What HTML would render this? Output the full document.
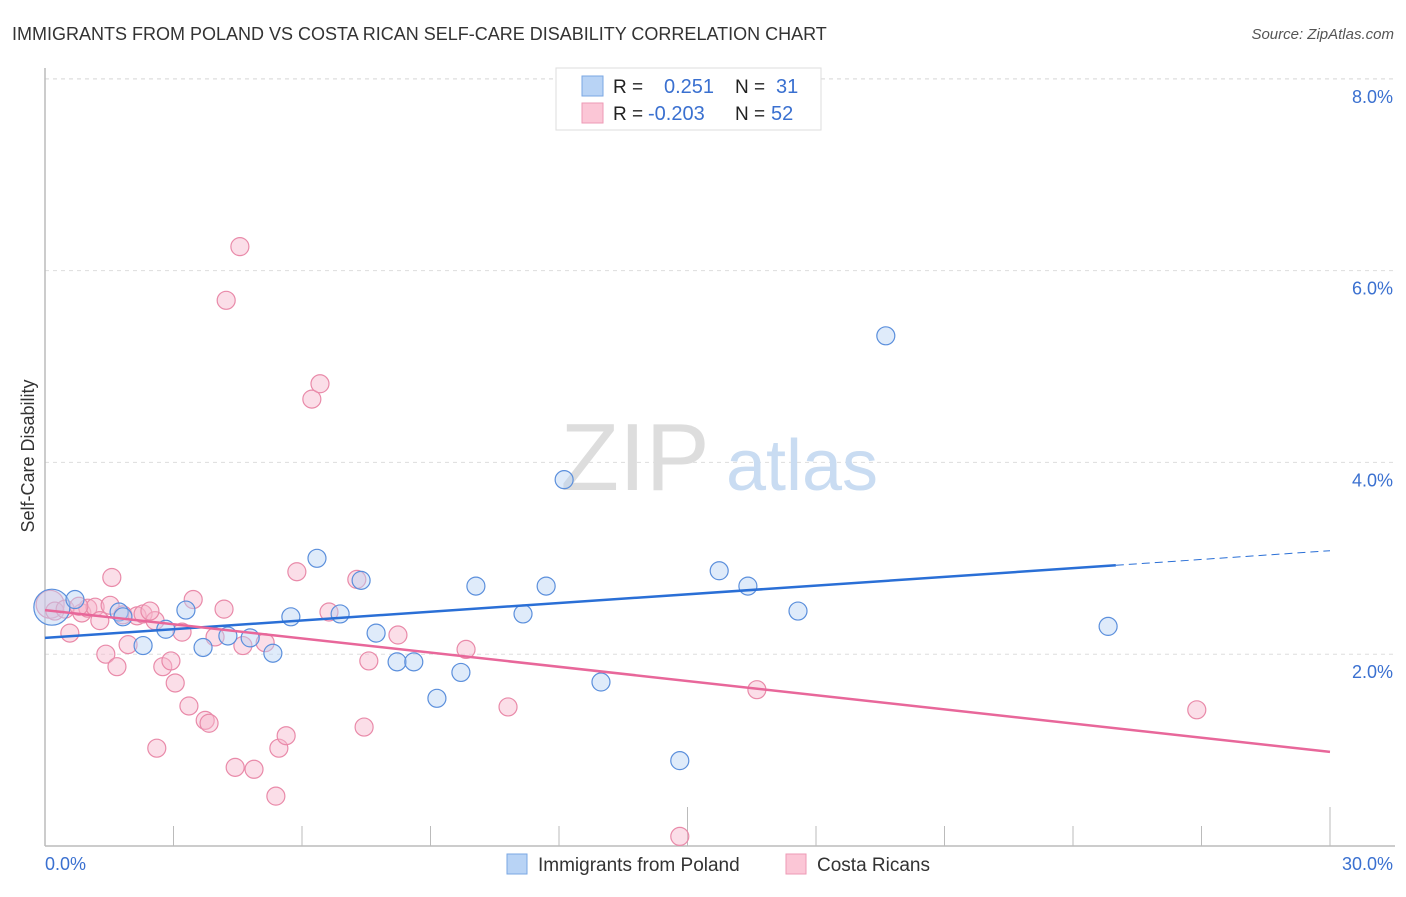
<!DOCTYPE html>
<html><head><meta charset="utf-8"><style>
body{margin:0;background:#fff;font-family:"Liberation Sans",sans-serif;}
svg text{font-family:"Liberation Sans",sans-serif;}
</style></head><body>
<svg id="chart" width="1406" height="892">
<text x="12" y="40" font-size="18" fill="#333">IMMIGRANTS FROM POLAND VS COSTA RICAN SELF-CARE DISABILITY CORRELATION CHART</text>
<text x="1394" y="39" font-size="15" fill="#555" text-anchor="end" font-style="italic">Source: ZipAtlas.com</text>
<g id="grid"></g>
<g>
<text x="635" y="490" font-size="96" fill="#ddd" font-family="Liberation Serif" text-anchor="middle">ZIP</text>
<text x="802" y="490" font-size="72" fill="#c9dcf2" text-anchor="middle">atlas</text>
</g>
<text transform="translate(34,456) rotate(-90)" font-size="18" fill="#333" text-anchor="middle">Self-Care Disability</text>
<g id="pts"></g>
<g id="lines"></g>
<g>
<rect x="556" y="68" width="265" height="62" fill="#fff" stroke="#ddd"/>
<rect x="582" y="76" width="21" height="20" fill="#b8d3f5" stroke="#7aa7e3"/>
<rect x="582" y="103" width="21" height="20" fill="#fbc6d6" stroke="#ee9ab5"/>
<text x="613" y="93" font-size="19" fill="#222">R =</text>
<text x="664" y="93" font-size="20" fill="#3a70d0">0.251</text>
<text x="735" y="93" font-size="19" fill="#222">N =</text>
<text x="776" y="93" font-size="20" fill="#3a70d0">31</text>
<text x="613" y="120" font-size="19" fill="#222">R =</text>
<text x="648" y="120" font-size="20" fill="#3a70d0">-0.203</text>
<text x="735" y="120" font-size="19" fill="#222">N =</text>
<text x="771" y="120" font-size="20" fill="#3a70d0">52</text>
</g>
<text x="45" y="870" font-size="18" fill="#3a70d0">0.0%</text>
<text x="1393" y="870" font-size="18" fill="#3a70d0" text-anchor="end">30.0%</text>
<g>
<rect x="507" y="854" width="20" height="20" fill="#b8d3f5" stroke="#7aa7e3"/>
<text x="538" y="871" font-size="19" fill="#333">Immigrants from Poland</text></g>
<g>
<rect x="786" y="854" width="20" height="20" fill="#fbc6d6" stroke="#ee9ab5"/>
<text x="817" y="871" font-size="19" fill="#333">Costa Ricans</text></g>
</svg>
<script>
const yTicks=[2,4,6,8];
const yTickLabels=["2.0%","4.0%","6.0%","8.0%"];
const blueX=[0.16,0.70,1.73,1.82,2.29,2.82,3.29,3.69,4.27,4.79,5.32,5.74,6.35,6.89,7.38,7.73,8.22,8.61,9.15,9.71,10.06,11.16,11.70,12.12,12.98,14.82,15.74,16.41,17.58,19.63,24.82];
const blueY=[2.49,2.57,2.44,2.39,2.09,2.26,2.46,2.07,2.19,2.17,2.01,2.39,3.00,2.42,2.77,2.22,1.92,1.92,1.54,1.81,2.71,2.42,2.71,3.82,1.71,0.89,2.87,2.71,2.45,5.32,2.29];
const pinkX=[0.12,0.23,0.47,0.86,1.00,1.17,1.56,0.58,1.28,1.82,1.42,1.68,1.94,2.15,2.29,2.57,2.61,2.75,2.94,3.04,3.20,3.36,3.46,3.74,3.83,3.97,4.18,4.23,4.44,4.55,4.62,4.88,5.14,5.39,5.46,5.63,5.88,6.23,6.42,6.63,7.28,7.45,7.56,8.24,9.83,10.81,14.82,16.62,26.89,2.45,0.79,1.52];
const pinkY=[2.52,2.45,2.47,2.43,2.48,2.49,2.80,2.22,2.35,2.41,2.00,1.87,2.10,2.40,2.42,2.35,1.02,1.87,1.93,1.70,2.23,1.46,2.57,1.31,1.28,2.18,2.47,5.69,0.82,6.25,2.09,0.80,2.12,0.52,1.02,1.15,2.86,4.66,4.82,2.44,2.78,1.24,1.93,2.20,2.05,1.45,0.10,1.63,1.42,2.45,2.50,2.51];
const blueTrend=[2.17,0.0303];
const pinkTrend=[2.46,-0.0493];
const NS="http://www.w3.org/2000/svg";
const X0=45,X1=1330,Y0=846,PX=95.9;
const xs=v=>X0+v/30*(X1-X0), ys=v=>Y0-v*PX;
function mk(t,a,p){const e=document.createElementNS(NS,t);for(const k in a)e.setAttribute(k,a[k]);p.appendChild(e);return e;}
const g=document.getElementById('grid');
yTicks.forEach((t,i)=>{
 const l=mk('line',{x1:X0,x2:1395,y1:ys(t),y2:ys(t),stroke:'#ddd','stroke-dasharray':'4,4'},g);
 
 
 const tx=mk('text',{x:1393,y:ys(t)+24,'font-size':18,fill:'#3a70d0','text-anchor':'end'},g);
 tx.textContent=yTickLabels[i];
 
 
});
mk('line',{x1:X0,x2:1395,y1:79,y2:79,stroke:'#ddd','stroke-dasharray':'4,4'},g);
const ax=mk('line',{x1:X0,x2:1395,y1:Y0,y2:Y0,stroke:'#bbb','stroke-width':1.5},g);


const ay=mk('line',{x1:X0,x2:X0,y1:68,y2:Y0,stroke:'#bbb','stroke-width':1.5},g);


for(let i=1;i<=10;i++){const t=mk('line',{x1:xs(i*3),x2:xs(i*3),y1:(i==5||i==10)?807:826,y2:Y0,stroke:'#bbb'},g);
 
 }
const P=document.getElementById('pts');
function dots(X,Y,fill,stroke,name,bigR){X.forEach((x,i)=>{
 const c=mk('circle',{cx:xs(x),cy:ys(Y[i]),r:(i==0?bigR:9),fill:fill,'fill-opacity':0.45,stroke:stroke,'stroke-width':1.2},P);
 
 });}
dots(pinkX,pinkY,'#f7b6cb','#e98aa9','costa-rican-point',14);
dots(blueX,blueY,'#b8d3f5','#5b8fdc','poland-point',18);
const L=document.getElementById('lines');
const bl=mk('line',{x1:xs(0),y1:ys(blueTrend[0]),x2:xs(25),y2:ys(blueTrend[0]+25*blueTrend[1]),stroke:'#2a6fd6','stroke-width':2.5},L);


const bd=mk('line',{x1:xs(25),y1:ys(blueTrend[0]+25*blueTrend[1]),x2:xs(30),y2:ys(blueTrend[0]+30*blueTrend[1]),stroke:'#2a6fd6','stroke-width':1,'stroke-dasharray':'8,5'},L);


const pl=mk('line',{x1:xs(0),y1:ys(pinkTrend[0]),x2:xs(30),y2:ys(pinkTrend[0]+30*pinkTrend[1]),stroke:'#e8679a','stroke-width':2.5},L);


</script>
</body></html>
